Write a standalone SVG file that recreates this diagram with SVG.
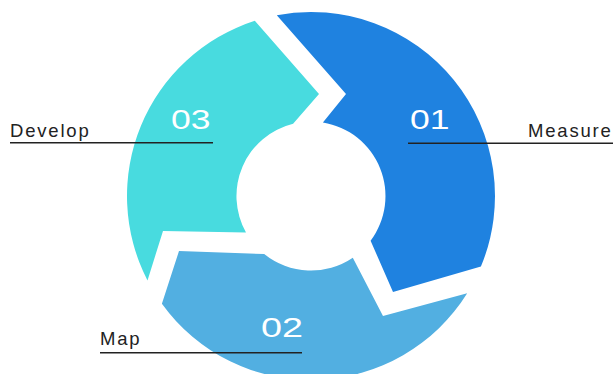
<svg xmlns="http://www.w3.org/2000/svg" width="613" height="374" viewBox="0 0 613 374">
<style>
.num{font-family:"Liberation Sans",Arial,sans-serif;font-size:27.5px;fill:#ffffff}
.lbl{font-family:"Liberation Sans",Arial,sans-serif;font-size:18.5px;fill:#222222;letter-spacing:1.8px}
.lead{stroke:#222222;stroke-width:1.6;fill:none}
</style>
<rect width="613" height="374" fill="#ffffff"/>
<g id="seg01">
<path fill="#1F82E0" d="M276.8,15.2 A184,184 0 0 1 480.9,266.6 L393,292 L370.6,240.7 A74.5,74.5 0 0 0 322.9,122.5 L346,94 Z"/>
<text class="num" x="410" y="128.5" textLength="39.5" lengthAdjust="spacingAndGlyphs">01</text>
</g>
<g id="seg02">
<path fill="#52AFE1" d="M467.2,293.2 A184,184 0 0 1 161.9,303.8 L179,251 L264.2,254 A74.5,74.5 0 0 0 352.8,257.7 L383,316 Z"/>
<text class="num" x="261" y="337" textLength="42" lengthAdjust="spacingAndGlyphs">02</text>
</g>
<g id="seg03">
<path fill="#48DBDF" d="M147.5,280.4 A184,184 0 0 1 254.8,20.8 L319,94 L293.1,123.7 A74.5,74.5 0 0 0 246,232.5 L163,231 Z"/>
<text class="num" x="171" y="128.5" textLength="39.5" lengthAdjust="spacingAndGlyphs">03</text>
</g>
<g id="connectors">
<line class="lead" x1="10" y1="142.7" x2="213" y2="142.7"/>
<line class="lead" x1="408" y1="143.3" x2="613" y2="143.3"/>
<line class="lead" x1="100" y1="352.7" x2="302" y2="352.7"/>
</g>
<g id="labels">
<text class="lbl" x="10" y="137">Develop</text>
<text class="lbl" x="528" y="137">Measure</text>
<text class="lbl" x="100" y="345">Map</text>
</g>
</svg>
